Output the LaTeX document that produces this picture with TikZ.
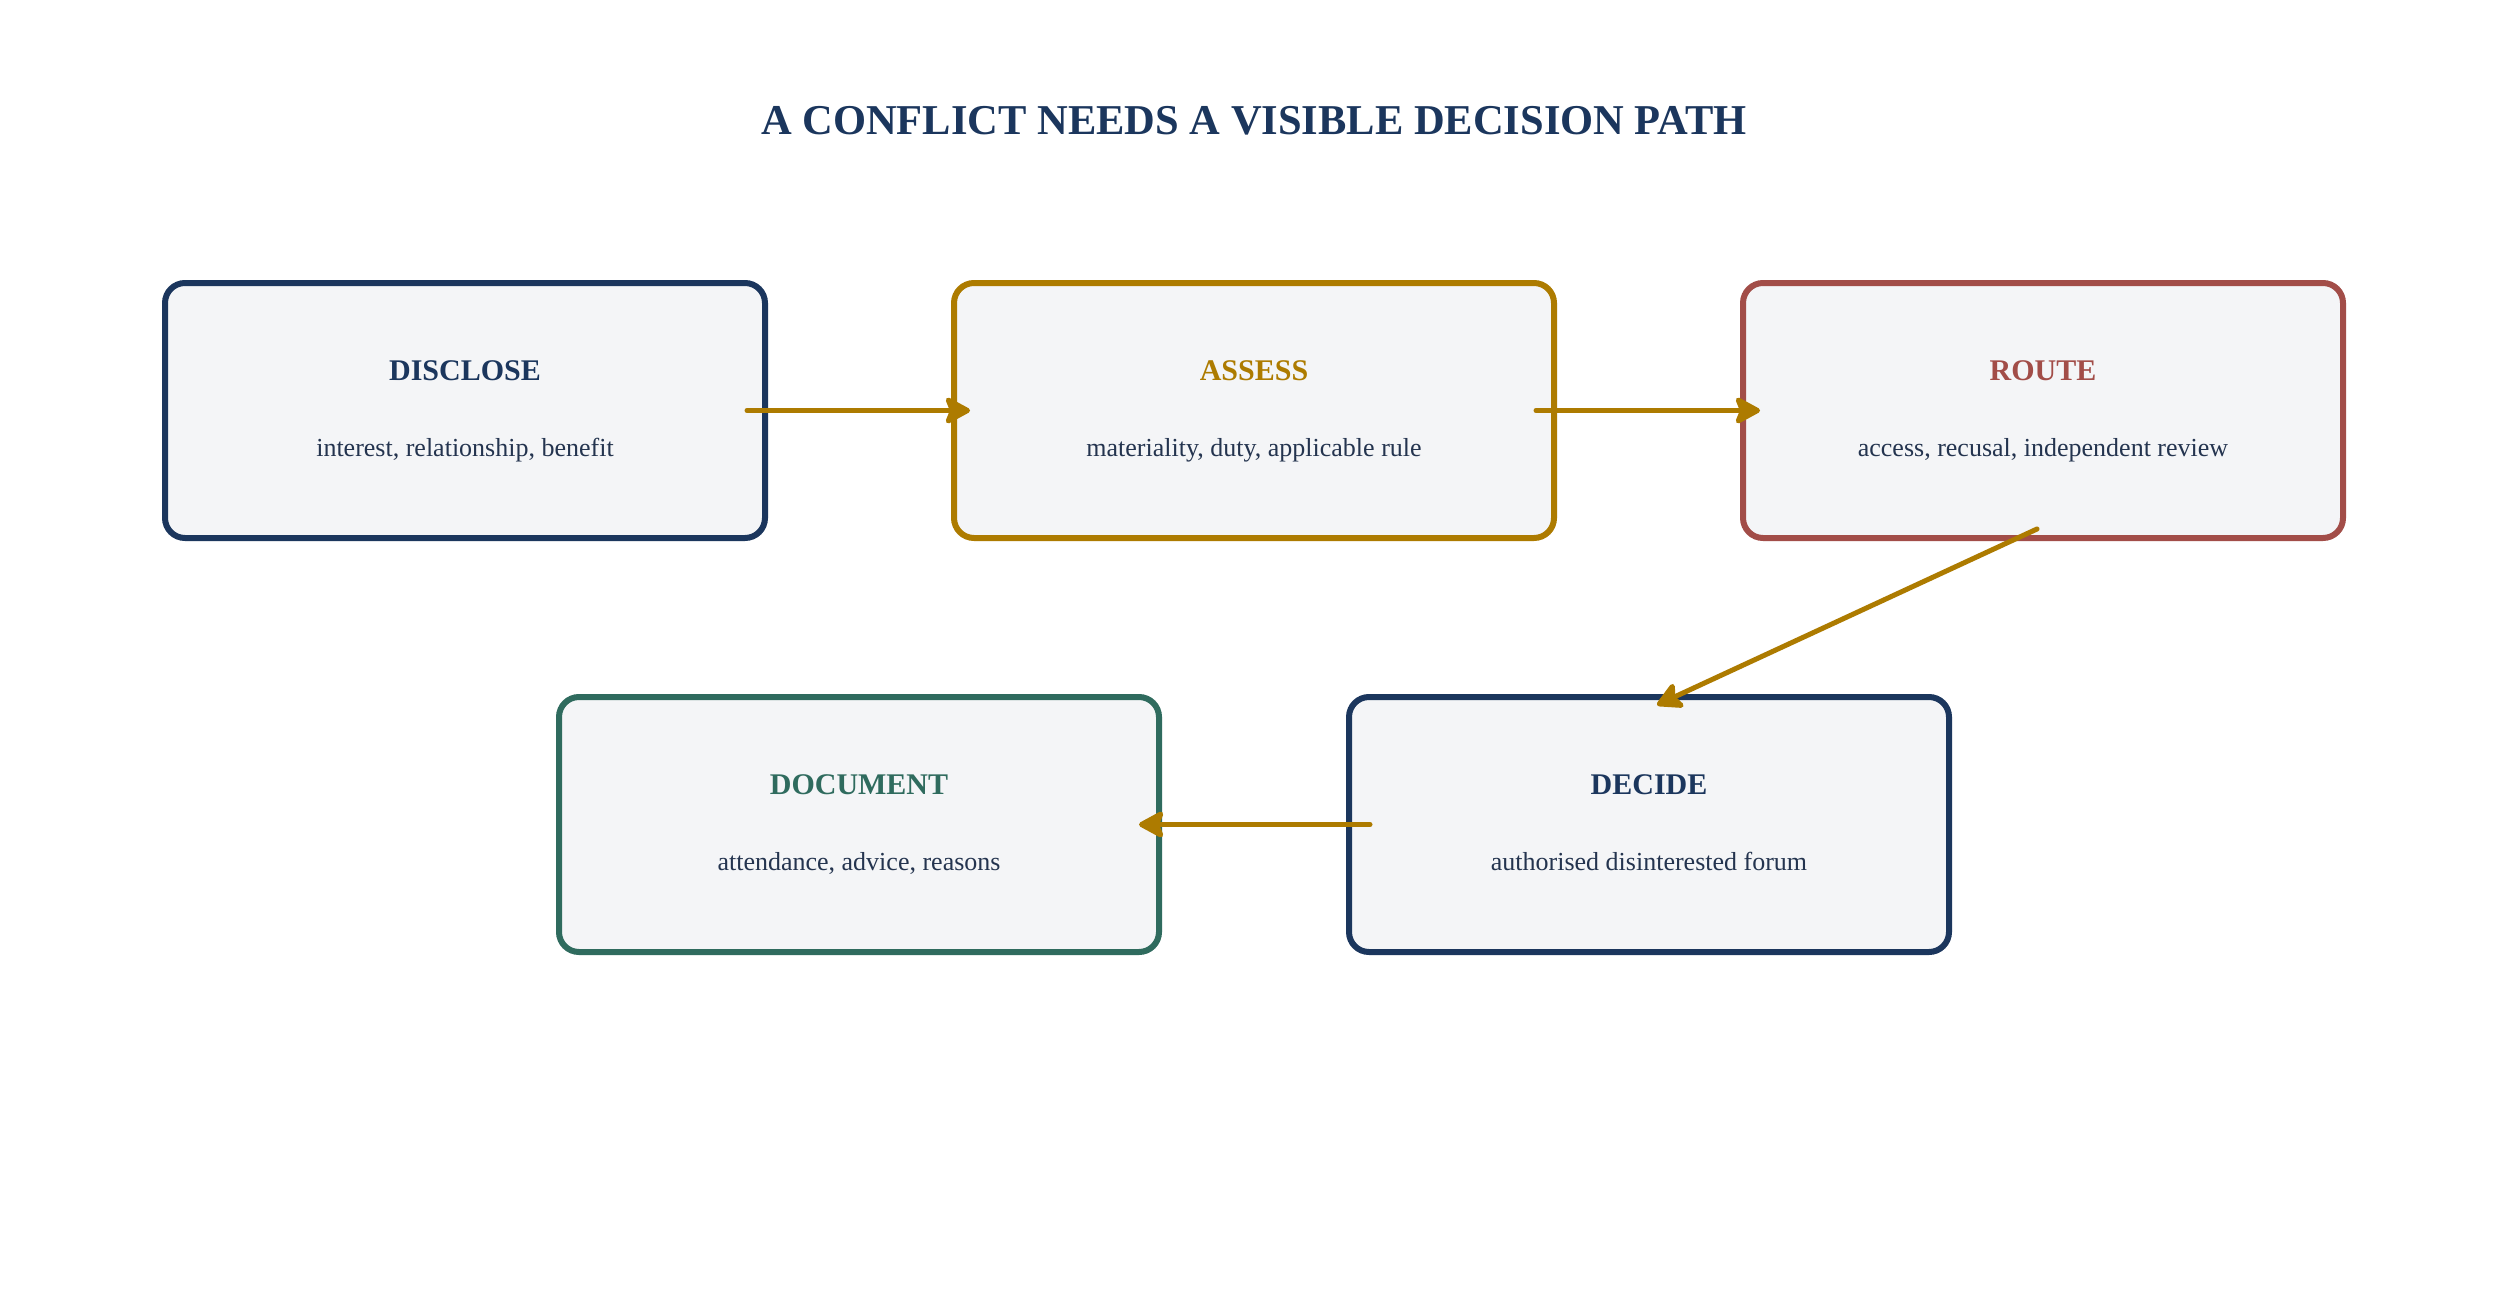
\documentclass[tikz,border=0pt]{standalone}
\usepackage{fontspec}
\setmainfont{Liberation Serif}
\usetikzlibrary{arrows.meta,calc}
\definecolor{navy}{HTML}{1B365D}
\definecolor{gold}{HTML}{AD7B00}
\definecolor{rust}{HTML}{A24D48}
\definecolor{pine}{HTML}{2F6B5E}
\definecolor{boxfill}{HTML}{F4F5F7}
\definecolor{subtext}{HTML}{24344F}
\begin{document}
\begin{tikzpicture}[x=1pt,y=-1pt,
  stagebox/.style={draw=#1,line width=6pt,fill=boxfill,rounded corners=20pt,
    minimum width=600pt,minimum height=255pt,inner sep=0pt},
  stagelabel/.style={text=#1,font=\fontsize{30}{36}\selectfont\bfseries,anchor=base,inner sep=0pt},
  stagesub/.style={text=subtext,font=\fontsize{26}{31}\selectfont,anchor=base,inner sep=0pt},
  flow/.style={draw=gold,line width=5pt,line cap=round,
    -{Stealth[length=29pt,width=31pt,inset=6pt,round]}}
]
\useasboundingbox[fill=white] (0,0) rectangle (2508,1298);

\node[text=navy,font=\fontsize{42.5}{50}\selectfont\bfseries,anchor=base,inner sep=0pt] (title) at (1254,134) {A CONFLICT NEEDS A VISIBLE DECISION PATH};

\node[stagebox=navy] (disclose) at (465,410.5) {};
\node[stagebox=gold] (assess) at (1254,410.5) {};
\node[stagebox=rust] (route) at (2043,410.5) {};
\node[stagebox=pine] (document) at (859,824.5) {};
\node[stagebox=navy] (decide) at (1649,824.5) {};

\node[stagelabel=navy] (disclosel) at ($(disclose.center)+(0,-30.5)$) {DISCLOSE};
\node[stagesub] (discloses) at ($(disclose.center)+(0,46)$) {interest, relationship, benefit};
\node[stagelabel=gold] (assessl) at ($(assess.center)+(0,-30.5)$) {ASSESS};
\node[stagesub] (assesss) at ($(assess.center)+(0,46)$) {materiality, duty, applicable rule};
\node[stagelabel=rust] (routel) at ($(route.center)+(0,-30.5)$) {ROUTE};
\node[stagesub] (routes) at ($(route.center)+(0,46)$) {access, recusal, independent review};
\node[stagelabel=pine] (documentl) at ($(document.center)+(0,-30.5)$) {DOCUMENT};
\node[stagesub] (documents) at ($(document.center)+(0,46)$) {attendance, advice, reasons};
\node[stagelabel=navy] (decidel) at ($(decide.center)+(0,-30.5)$) {DECIDE};
\node[stagesub] (decides) at ($(decide.center)+(0,46)$) {authorised disinterested forum};

\draw[flow] ($(disclose.east)+(-21,0)$) -- ($(assess.west)+(19,0)$);
\draw[flow] ($(assess.east)+(-21,0)$) -- ($(route.west)+(20,0)$);
\draw[flow] ($(route.south)+(-6,-12)$) -- ($(decide.north)+(8,11)$);
\draw[flow] ($(decide.west)+(24,0)$) -- ($(document.east)+(-23,0)$);
\end{tikzpicture}
\end{document}
